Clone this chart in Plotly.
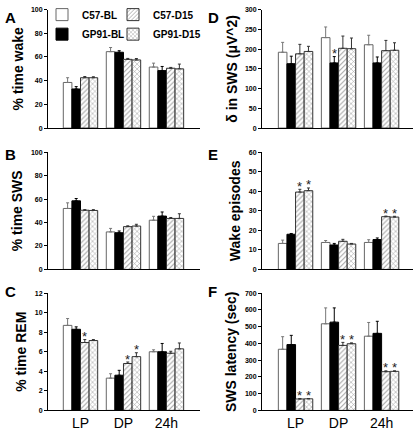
import plotly.graph_objects as go

# ---------------- data ----------------
categories = ["LP", "DP", "24h"]
series = ["C57-BL", "GP91-BL", "C57-D15", "GP91-D15"]

# rows follow `series`, columns follow `categories`
wake_mean = [[38.5, 64.5, 51.5], [33.0, 64.0, 48.5], [42.5, 58.0, 50.5], [42.5, 57.5, 50.0]]
wake_err = [[4.0, 3.5, 3.3], [2.0, 1.3, 3.5], [1.0, 0.8, 0.7], [0.8, 1.2, 4.0]]

sws_mean = [[52.0, 32.0, 42.0], [58.5, 31.3, 45.5], [50.5, 36.5, 43.5], [50.3, 37.0, 43.5]]
sws_err = [[4.8, 3.0, 3.3], [2.0, 1.5, 3.5], [0.5, 0.7, 0.8], [0.7, 1.5, 4.0]]

rem_mean = [[8.7, 3.3, 6.0], [8.3, 3.6, 6.0], [6.95, 4.8, 5.85], [7.15, 5.5, 6.3]]
rem_err = [[0.7, 0.45, 0.2], [0.25, 0.5, 0.85], [0.3, 0.15, 0.2], [0.1, 0.4, 0.6]]

delta_mean = [[192, 229, 211], [163, 165, 165], [188, 202, 196], [194, 201, 197]]
delta_err = [[25, 27, 24], [19, 16, 15], [24, 31, 26], [13, 27, 19]]

wakeep_mean = [[13.3, 13.8, 13.8], [18.0, 12.5, 15.3], [39.6, 14.4, 27.0], [40.3, 13.0, 26.8]]
wakeep_err = [[1.7, 1.0, 1.4], [0.4, 0.8, 0.8], [1.4, 1.0, 0.3], [1.4, 0.3, 0.4]]

lat_mean = [[365, 517, 443], [393, 527, 460], [68, 388, 231], [69, 398, 233]]
lat_err = [[75, 95, 82], [55, 85, 72], [3, 18, 5], [2, 5, 3]]

# significance marks: (series index, category index)
sig_rem = [(2, 0), (2, 1), (3, 1)]
sig_delta = [(1, 1)]
sig_wakeep = [(2, 0), (3, 0), (2, 2), (3, 2)]
sig_lat = [(2, 0), (3, 0), (2, 1), (3, 1), (2, 2), (3, 2)]

y_titles = ["% time wake", "% time SWS", "% time REM",
            "δ in SWS (μV^2)", "Wake episodes", "SWS latency (sec)"]
panel_letters = ["A", "B", "C", "D", "E", "F"]

# ---------------- styling ----------------
W, H = 415, 431
FONT = "Arial, Liberation Sans, sans-serif"
fills = ["white", "black", "white", "white"]
patterns = ["", "", "/", "x"]
line_cols = ["#666666", "black", "#333333", "#333333"]
err_cols = ["#777777", "black", "#333333", "#333333"]
legend_ids = ["legend", "legend3", "legend2", "legend4"]
# legend placement (px) per series: (left, top)
legend_px = [(42, -5), (42, 15), (113, -5), (113, 15)]

panels = [
    (wake_mean, wake_err, [], 100, 20),
    (sws_mean, sws_err, [], 100, 20),
    (rem_mean, rem_err, sig_rem, 12, 2),
    (delta_mean, delta_err, sig_delta, 300, 50),
    (wakeep_mean, wakeep_err, sig_wakeep, 60, 10),
    (lat_mean, lat_err, sig_lat, 700, 100),
]

col_dom = [(48 / W, 200 / W), (262 / W, 413 / W)]
col_rng = [(-0.756, 2.78), (-0.78, 2.73)]
row_dom = [(1 - 126 / H, 1 - 4.7 / H), (1 - 270.7 / H, 1 - 150.7 / H), (1 - 415 / H, 1 - 295 / H)]

fig = go.Figure()
xpos = list(range(len(categories)))
annotations = []

for p, (mean, err, sig, ymax, dt) in enumerate(panels):
    col, row = p // 3, p % 3
    ax = "" if p == 0 else str(p + 1)
    for s, name in enumerate(series):
        fig.add_trace(go.Bar(
            x=xpos, y=mean[s], name=name,
            xaxis="x" + ax, yaxis="y" + ax,
            showlegend=(p == 0), legend=legend_ids[s],
            marker=dict(color=fills[s], line=dict(color=line_cols[s], width=1),
                        pattern=dict(shape=patterns[s], fgcolor="#444444", bgcolor="white",
                                     size=3.5, solidity=0.3)),
            error_y=dict(type="data", symmetric=False, array=err[s],
                         arrayminus=[0] * len(categories),
                         color=err_cols[s], thickness=1, width=1.5),
        ))
    for (s, c) in sig:
        annotations.append(dict(
            x=c + (s - 1.5) * 0.2, y=mean[s][c] + err[s][c],
            xref="x" + ax, yref="y" + ax, text="*", showarrow=False,
            yanchor="middle", yshift=3,
            font=dict(family=FONT, size=13, color="#222222"),
        ))
    fig.layout["xaxis" + ax] = dict(
        domain=col_dom[col], range=col_rng[col], anchor="y" + ax,
        showline=True, linecolor="black", linewidth=1, ticks="",
        showgrid=False, zeroline=False, tickvals=xpos, ticktext=categories,
        showticklabels=(row == 2), tickfont=dict(family=FONT, size=14, color="black"),
    )
    fig.layout["yaxis" + ax] = dict(
        domain=row_dom[row], range=[0, ymax], dtick=dt, anchor="x" + ax,
        showline=True, linecolor="black", linewidth=1, ticks="outside",
        ticklen=3, tickcolor="black", showgrid=False, zeroline=False,
        tickfont=dict(family=FONT, size=7, color="black", weight="bold"),
        title=dict(text=y_titles[p], standoff=4,
                   font=dict(family=FONT, size=14, color="black", weight="bold")),
    )
    lx = 3 / W if col == 0 else 206 / W
    ly = [1 - 2 / H, 1 - 142 / H, 1 - 283 / H][row]
    annotations.append(dict(
        x=lx, y=ly, xref="paper", yref="paper", text=panel_letters[p],
        showarrow=False, xanchor="left", yanchor="top",
        font=dict(family=FONT, size=15, color="black", weight="bold"),
    ))

leg_common = dict(orientation="h", xanchor="left", yanchor="top", itemwidth=30,
                  bgcolor="rgba(0,0,0,0)",
                  font=dict(family=FONT, size=10, color="black", weight="bold"))
for s in range(len(series)):
    lx, ly = legend_px[s]
    fig.layout[legend_ids[s]] = dict(x=lx / W, y=1 - ly / H, **leg_common)

fig.update_layout(
    width=W, height=H, autosize=False,
    margin=dict(l=0, r=0, t=0, b=0),
    paper_bgcolor="white", plot_bgcolor="white",
    barmode="group", bargap=0.2, bargroupgap=0,
    annotations=annotations,
    showlegend=True,
)

fig.write_html("out.html", config={"displayModeBar": False},
               post_script="document.body.style.margin='0px';")
